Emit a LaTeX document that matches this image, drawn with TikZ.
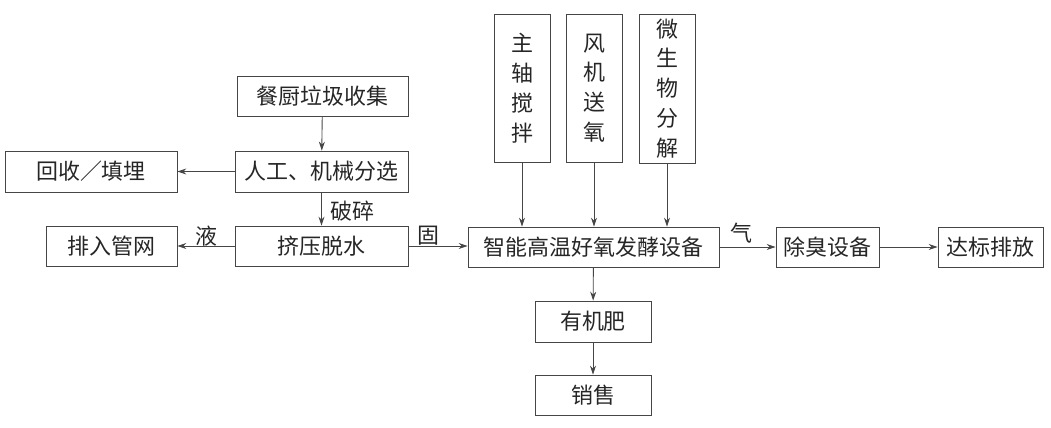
\documentclass[tikz,border=0pt]{standalone}
\usepackage{fontspec}
\setmainfont{Noto Sans CJK SC}
\usetikzlibrary{positioning,arrows.meta}
\definecolor{linegray}{RGB}{70,70,70}

\begin{document}
\begin{tikzpicture}[x=1cm,y=1cm, every node/.style={font=\fontsize{12.5}{14}\selectfont,text=black!85},
    box/.style={draw=linegray,minimum height=0.8cm,inner sep=0pt},
    vbox/.style={draw=linegray,minimum width=1.12cm,minimum height=2.96cm,align=center,inner sep=0pt,font=\fontsize{12.5}{17}\selectfont},
    flow/.style={-{Stealth[length=1.8mm,width=1.2mm]},draw=linegray,line width=0.5pt}]
      \useasboundingbox (0,0) rectangle (21.02,-8.54);
      \node[box,minimum width=3.42cm] at (6.45,-1.92) (collect) {餐厨垃圾收集};
      \node[box,minimum width=3.46cm,minimum height=0.82cm] at (6.43,-3.43) (sort) {人工、机械分选};
      \node[box,minimum width=3.44cm,minimum height=0.82cm] at (1.82,-3.43) (recycle) {回收／填埋};
      \node[box,minimum width=3.46cm] at (6.43,-4.92) (dewater) {挤压脱水};
      \node[box,minimum width=2.62cm] at (2.23,-4.92) (pipe) {排入管网};
      \node[box,minimum width=5.02cm] at (11.87,-4.94) (ferment) {智能高温好氧发酵设备};
      \node[vbox] at (10.44,-1.76) (stir) {主\\轴\\搅\\拌};
      \node[vbox] at (11.88,-1.76) (air) {风\\机\\送\\氧};
      \node[vbox,minimum height=2.98cm] at (13.34,-1.77) (micro) {微\\生\\物\\分\\解};
      \node[box,minimum width=2.06cm] at (16.55,-4.94) (deodor) {除臭设备};
      \node[box,minimum width=2.1cm] at (19.81,-4.94) (emit) {达标排放};
      \node[box,minimum width=2.32cm,minimum height=0.82cm] at (11.86,-6.43) (fert) {有机肥};
      \node[box,minimum width=2.32cm] at (11.86,-7.9) (sale) {销售};
      % connectors
      \draw[flow] (collect) -- (sort);
      \draw[flow] (sort) -- (recycle);
      \draw[flow] (sort) -- (dewater);
      \draw[flow] (dewater) -- (pipe);
      \draw[flow] (dewater.east) -- (dewater.east -| ferment.west);
      \draw[flow] (stir) -- (stir |- ferment.north);
      \draw[flow] (air) -- (air |- ferment.north);
      \draw[flow] (micro) -- (micro |- ferment.north);
      \draw[flow] (ferment) -- (deodor);
      \draw[flow] (deodor) -- (emit);
      \draw[flow] (ferment) -- (fert);
      \draw[flow] (fert) -- (sale);
      % labels
      \node at (7.04,-4.22) (crush) {破碎};
      \node at (4.12,-4.72) (liquid) {液};
      \node at (8.56,-4.72) (solid) {固};
      \node at (14.82,-4.66) (gas) {气};
    \end{tikzpicture}
\end{document}
